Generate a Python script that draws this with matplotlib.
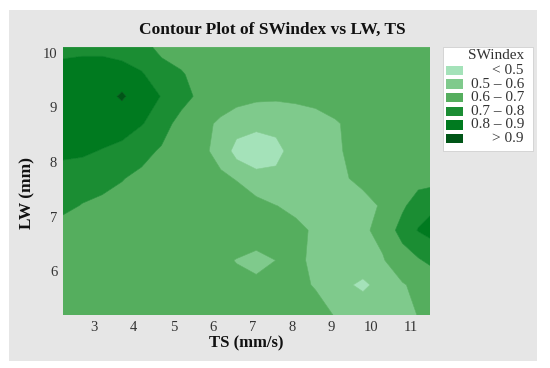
import numpy as np
import matplotlib.pyplot as plt
from matplotlib.patches import Rectangle

# grid: TS across, LW up
ts = [2.2, 2.7, 3.2, 3.7, 4.2, 4.7, 5.2, 5.7, 6.2, 6.6,
      7.1, 7.6, 8.1, 8.6, 9.1, 9.8, 10.3, 10.8, 11.2, 11.5]
lw = [5.2, 5.75, 6.2, 6.75, 7.2, 7.7, 8.2, 8.7, 9.2, 9.6, 10.1]

# SWindex, one row per LW value (bottom to top)
swindex = [
    [0.66, 0.66, 0.655, 0.655, 0.65, 0.65, 0.645, 0.64, 0.64, 0.64,
     0.64, 0.635, 0.625, 0.615, 0.598, 0.57, 0.575, 0.59, 0.601, 0.61],
    [0.66, 0.655, 0.65, 0.65, 0.645, 0.645, 0.64, 0.635, 0.63, 0.62,
     0.615, 0.615, 0.61, 0.597, 0.536, 0.48, 0.536, 0.595, 0.615, 0.625],
    [0.66, 0.655, 0.65, 0.65, 0.645, 0.64, 0.635, 0.63, 0.615, 0.597,
     0.58, 0.6005, 0.605, 0.595, 0.575, 0.56, 0.595, 0.64, 0.69, 0.72],
    [0.66, 0.655, 0.65, 0.65, 0.65, 0.65, 0.65, 0.65, 0.65, 0.65,
     0.64, 0.63, 0.615, 0.591, 0.575, 0.59, 0.618, 0.746, 0.805, 0.83],
    [0.725, 0.695, 0.68, 0.665, 0.655, 0.65, 0.645, 0.64, 0.635, 0.628,
     0.635, 0.601, 0.585, 0.57, 0.56, 0.58, 0.607, 0.68, 0.76, 0.78],
    [0.76, 0.75, 0.73, 0.705, 0.675, 0.655, 0.64, 0.625, 0.61, 0.597,
     0.53, 0.525, 0.56, 0.57, 0.585, 0.615, 0.64, 0.65, 0.655, 0.66],
    [0.82, 0.815, 0.795, 0.77, 0.735, 0.686, 0.655, 0.615, 0.579, 0.457,
     0.44, 0.47, 0.545, 0.565, 0.59, 0.627, 0.64, 0.65, 0.655, 0.66],
    [0.84, 0.85, 0.855, 0.85, 0.805, 0.755, 0.653, 0.625, 0.585, 0.555,
     0.525, 0.53, 0.56, 0.575, 0.595, 0.622, 0.64, 0.65, 0.655, 0.66],
    [0.85, 0.86, 0.87, 0.91, 0.86, 0.796, 0.75, 0.667, 0.645, 0.63,
     0.62, 0.615, 0.615, 0.62, 0.625, 0.64, 0.65, 0.655, 0.66, 0.66],
    [0.84, 0.85, 0.86, 0.86, 0.81, 0.74, 0.71, 0.66, 0.65, 0.645,
     0.64, 0.64, 0.64, 0.64, 0.64, 0.645, 0.65, 0.65, 0.65, 0.65],
    [0.77, 0.775, 0.77, 0.74, 0.73, 0.675, 0.65, 0.64, 0.64, 0.64,
     0.64, 0.64, 0.64, 0.64, 0.64, 0.645, 0.65, 0.65, 0.65, 0.65],
]

levels = [0.0, 0.5, 0.6, 0.7, 0.8, 0.9, 1.0]
level_labels = ['< 0.5', '0.5 \u2013 0.6', '0.6 \u2013 0.7',
                '0.7 \u2013 0.8', '0.8 \u2013 0.9', '> 0.9']
greens = ['#a4e2b9', '#7fca8c', '#55ae5e', '#1b8d33', '#007a1f', '#005517']

serif = 'Liberation Serif'

fig = plt.figure(figsize=(5.5, 3.68), dpi=100)
fig.patch.set_facecolor('white')
fig.patches.append(Rectangle((0.0164, 0.019), 0.96, 0.954, transform=fig.transFigure,
                             facecolor='#e6e6e6', edgecolor='none', zorder=-5))

ax = fig.add_axes([0.114, 0.144, 0.668, 0.728])
ax.set_zorder(1)
cs = ax.contourf(ts, lw, np.array(swindex), levels=levels, colors=greens,
                 antialiased=True)
cs.set_edgecolor('face')
cs.set_linewidth(0.4)

ax.set_xlim(ts[0], ts[-1])
ax.set_ylim(lw[0], lw[-1])
ax.set_xticks(range(3, 12))
ax.set_yticks(range(6, 11))
ax.tick_params(length=0, pad=4, labelsize=10.5, labelcolor='#333333')
for lab in ax.get_xticklabels() + ax.get_yticklabels():
    lab.set_family(serif)
for s in ax.spines.values():
    s.set_visible(False)

fig.text(0.495, 0.918, 'Contour Plot of SWindex vs LW, TS', ha='center', va='center',
         fontsize=12.5, fontweight='bold', family=serif, color='#111111')
fig.text(0.447, 0.066, 'TS (mm/s)', ha='center', va='center',
         fontsize=12, fontweight='bold', family=serif, color='#111111')
fig.text(0.049, 0.476, 'LW (mm)', ha='center', va='center', rotation=90,
         fontsize=12.5, fontweight='bold', family=serif, color='#111111')

# legend box drawn by hand so the labels can sit right-aligned
fig.patches.append(Rectangle((0.8055, 0.5897), 0.1635, 0.2826, transform=fig.transFigure,
                             facecolor='white', edgecolor='#d0d0d0', lw=0.6, zorder=2))
fig.text(0.9527, 0.8505, 'SWindex', ha='right', va='center', fontsize=11,
         family=serif, color='#333333', zorder=3)
for i, (lab, col) in enumerate(zip(level_labels, greens)):
    yc = 1 - (70.5 + 13.6 * i) / 368
    fig.patches.append(Rectangle((0.811, yc - 0.0125), 0.031, 0.025, transform=fig.transFigure,
                                 facecolor=col, edgecolor='none', zorder=3))
    fig.text(0.9527, yc, lab, ha='right', va='center', fontsize=11,
             family=serif, color='#333333', zorder=3)

fig.savefig('out.png', dpi=100)
